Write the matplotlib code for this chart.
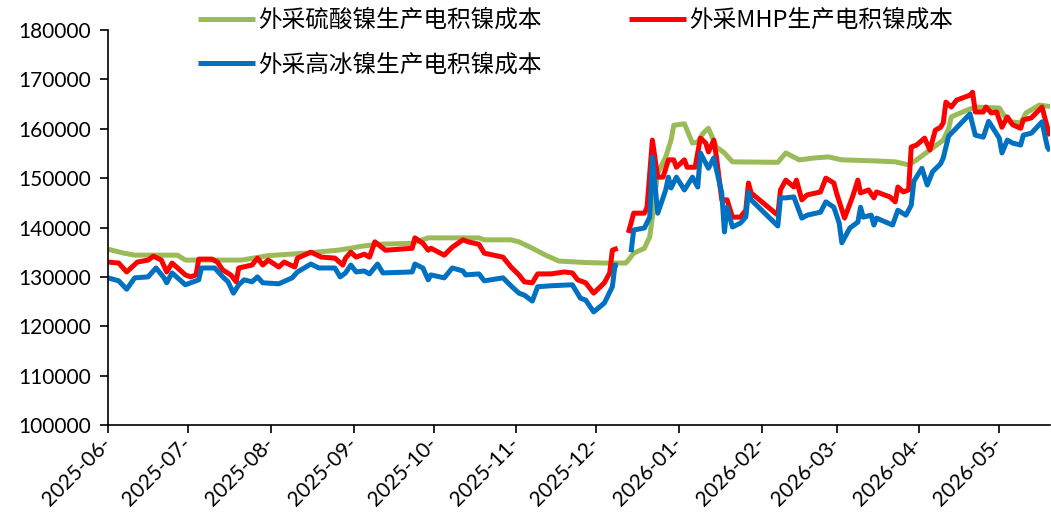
import numpy as np
import pandas as pd
import matplotlib
matplotlib.use('Agg')
import matplotlib.pyplot as plt
from matplotlib.font_manager import FontProperties

# 天数 = 距 2025-06-01 的天数, 数值单位: 千元/吨
start = pd.Timestamp('2025-06-01')

green_day = [0, 6, 10, 26, 29, 50, 60, 74, 86, 91, 95, 101, 114, 120, 139, 141, 151, 154, 159, 164,
             169, 179, 186, 194, 195, 197, 201, 203, 204, 205, 206, 209, 211, 212, 216, 217, 219, 221,
             223, 225, 228, 231, 234, 251, 254, 259, 265, 270, 275, 287, 295, 300, 303, 308, 313, 315,
             316, 322, 325, 334, 336, 338, 342, 344, 349, 353]
green_val = [135.6, 134.8, 134.4, 134.4, 133.4, 133.4, 134.3, 134.8, 135.4, 135.8, 136.2, 136.6, 136.8,
             137.9, 137.9, 137.5, 137.5, 137.1, 135.8, 134.4, 133.2, 132.9, 132.8, 132.8, 133.4, 134.8,
             135.8, 138.1, 142.1, 147.0, 151.0, 154.3, 157.7, 160.7, 161.0, 159.7, 157.1, 157.3, 159.1,
             160.1, 156.3, 155.1, 153.3, 153.2, 155.1, 153.7, 154.1, 154.3, 153.7, 153.5, 153.3, 152.7,
             153.7, 155.7, 157.7, 160.0, 162.4, 163.8, 164.4, 164.2, 162.5, 161.4, 161.2, 163.2, 164.8,
             164.5]

red_day = [0, 4, 7, 11, 15, 17, 20, 22, 24, 29, 31, 33, 34, 39, 41, 43, 46, 48, 49, 54, 56, 58, 60, 64,
           66, 70, 71, 76, 80, 85, 88, 89, 91, 93, 96, 98, 100, 104, 114, 115, 118, 120, 121, 126, 129,
           133, 135, 139, 141, 148, 151, 154, 156, 159, 161, 166, 171, 174, 176, 179, 182, 186, 188, 189,
           191, 193, 195, 197, 201, 202, 204, 206, 208, 210, 212, 213, 216, 217, 220, 222, 224, 225, 227,
           228, 230, 232, 234, 237, 239, 240, 241, 251, 252, 254, 257, 258, 260, 262, 267, 269, 272, 273,
           276, 279, 281, 282, 285, 287, 288, 293, 295, 296, 298, 300, 301, 303, 306, 308, 310, 312, 313,
           314, 316, 318, 323, 324, 325, 328, 329, 331, 333, 335, 337, 339, 342, 343, 346, 350, 352, 353]
red_val = [133.0, 132.8, 131.0, 133.0, 133.4, 134.2, 133.4, 131.0, 132.8, 130.4, 130.0, 130.4, 133.6,
           133.6, 133.0, 131.4, 130.4, 129.0, 131.8, 132.4, 133.8, 132.4, 133.4, 132.0, 133.0, 132.0,
           133.8, 135.0, 134.0, 133.8, 132.4, 133.8, 135.0, 134.0, 134.6, 134.0, 137.1, 135.4, 135.8,
           137.9, 136.8, 135.4, 135.8, 134.4, 136.0, 137.5, 137.1, 136.6, 134.8, 134.0, 132.0, 130.4,
           129.0, 128.8, 130.6, 130.6, 131.0, 130.8, 129.4, 128.8, 126.7, 128.8, 130.8, 135.4, 135.8,
           np.nan, 138.9, 142.9, 142.9, 144.1, 157.7, 150.2, 150.2, 153.7, 153.7, 152.2, 153.7, 152.2,
           152.2, 158.1, 157.1, 155.3, 157.7, 154.3, 145.6, 145.6, 142.1, 142.1, 143.5, 149.0, 147.0,
           142.5, 147.6, 149.6, 148.2, 149.6, 145.6, 146.6, 147.2, 150.0, 149.0, 147.0, 141.9, 146.2,
           149.6, 147.0, 147.6, 146.0, 147.2, 146.2, 145.2, 148.2, 147.2, 147.6, 156.3, 156.7, 158.1,
           155.7, 159.7, 160.3, 161.2, 165.4, 164.4, 165.8, 166.8, 167.4, 163.4, 163.4, 164.4, 163.2,
           163.4, 160.3, 162.4, 160.8, 160.1, 161.8, 162.2, 164.4, 160.3, 158.5]

blue_day = [0, 4, 7, 10, 15, 18, 21, 22, 24, 29, 34, 35, 40, 43, 45, 47, 49, 51, 54, 56, 58, 64, 69, 71,
            76, 79, 85, 87, 89, 91, 93, 96, 98, 101, 103, 114, 115, 118, 120, 121, 126, 129, 133, 134,
            139, 141, 148, 151, 154, 156, 159, 161, 166, 174, 177, 179, 182, 186, 189, 190, 191, 193, 196,
            197, 201, 203, 204, 206, 209, 210, 211, 213, 216, 219, 221, 222, 225, 227, 230, 231, 232, 234,
            237, 239, 240, 241, 251, 252, 254, 257, 260, 262, 267, 269, 272, 274, 275, 278, 281, 282, 283,
            286, 287, 288, 294, 296, 299, 301, 302, 305, 307, 309, 312, 313, 315, 323, 325, 328, 330, 334,
            335, 337, 339, 342, 343, 346, 350, 352, 353]
blue_val = [129.8, 129.2, 127.5, 129.8, 130.0, 131.8, 129.8, 128.8, 130.8, 128.4, 129.4, 131.8, 131.8,
            130.0, 129.0, 126.7, 128.4, 129.4, 129.0, 130.0, 128.8, 128.6, 129.8, 131.0, 132.6, 131.8,
            131.8, 130.0, 130.8, 132.4, 131.0, 131.2, 130.6, 132.6, 130.8, 131.0, 132.6, 131.8, 129.4,
            130.4, 129.8, 131.8, 131.2, 130.4, 130.6, 129.2, 129.8, 128.2, 126.7, 126.3, 125.1, 128.0,
            128.2, 128.4, 125.7, 125.3, 122.9, 124.7, 128.0, 132.4, 132.4, np.nan, 135.0, 139.5, 139.9,
            142.1, 154.3, 142.9, 147.6, 150.2, 148.0, 150.2, 147.6, 150.2, 148.2, 155.1, 152.0, 154.1,
            147.0, 139.1, 144.1, 140.1, 140.9, 142.1, 147.2, 145.6, 140.3, 146.0, 146.0, 146.2, 141.9,
            142.5, 143.1, 145.2, 144.1, 140.9, 136.9, 139.9, 141.1, 144.1, 142.1, 142.5, 140.5, 141.9,
            140.5, 143.5, 142.5, 144.5, 149.4, 152.0, 148.6, 151.3, 152.9, 154.1, 158.5, 163.0, 158.7,
            158.3, 161.5, 158.1, 155.1, 157.7, 157.1, 156.7, 158.7, 159.1, 161.4, 156.3, 155.5]

series_names = ['外采硫酸镍生产电积镍成本', '外采MHP生产电积镍成本', '外采高冰镍生产电积镍成本']
series_colors = ['#9BBB59', '#FF0000', '#0070C0']
months = pd.date_range('2025-06-01', '2026-05-01', freq='MS')


def to_dates(days):
    return start + pd.to_timedelta(days, unit='D')


fig = plt.figure(figsize=(10.51, 5.18), dpi=100)
ax = fig.add_axes([108 / 1051, 1 - 425 / 518, (1050 - 108) / 1051, (425 - 30) / 518])

lines = []
for d, v, name, c in zip([green_day, red_day, blue_day], [green_val, red_val, blue_val],
                         series_names, series_colors):
    ln, = ax.plot(to_dates(d), np.array(v) * 1000, color=c, lw=3.6, label=name,
                  solid_joinstyle='round', solid_capstyle='butt')
    lines.append(ln)

ax.set_ylim(100000, 180000)
ax.set_yticks(range(100000, 180001, 10000))
ax.set_xlim(start, start + pd.Timedelta(days=353))
ax.set_xticks(months)
ax.set_xticklabels([m.strftime('%Y-%m-') for m in months], rotation=45,
                   ha='right', va='center', rotation_mode='anchor')

for s in ['top', 'right']:
    ax.spines[s].set_visible(False)
for s in ['left', 'bottom']:
    ax.spines[s].set_linewidth(1.2)
ax.tick_params(axis='both', direction='out', length=6, width=1.2, labelsize=15)
ax.tick_params(axis='y', pad=6)
ax.tick_params(axis='x', pad=5)
for lab in ax.get_xticklabels() + ax.get_yticklabels():
    lab.set_family(['Lato', 'DejaVu Sans'])

leg = fig.legend(handles=[lines[0], lines[2], lines[1]], ncol=2, frameon=False,
                 loc='upper left', bbox_to_anchor=(198 / 1051, 1 - 9 / 518),
                 prop=FontProperties(family=['Noto Sans CJK SC'], size=17),
                 handlelength=2.4, handletextpad=0.15, columnspacing=3.7,
                 labelspacing=0.9, borderpad=0, borderaxespad=0)

fig.savefig('out.png', dpi=100)
